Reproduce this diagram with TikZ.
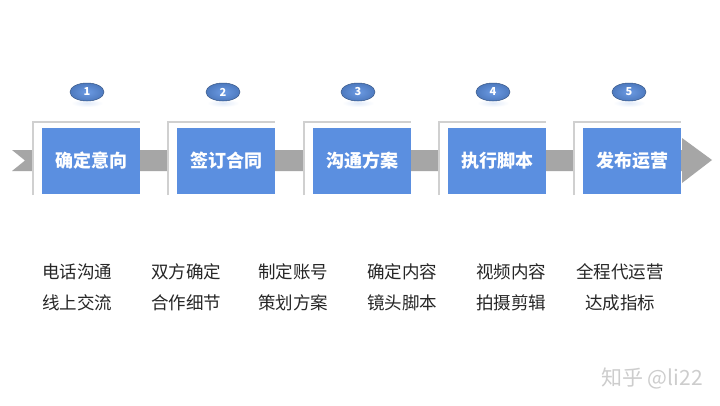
\documentclass[tikz,border=0pt]{standalone}
\usepackage{fontspec}
\setmainfont{Noto Sans CJK SC}
\newfontfamily\cjk{Noto Sans CJK SC}
\usetikzlibrary{shapes.geometric,shadings}
\definecolor{boxblue}{HTML}{5B8FE0}
\definecolor{bandgray}{HTML}{A6A6A6}
\definecolor{framegray}{HTML}{D0D0D0}
\definecolor{wm}{HTML}{CDCDCD}
\tikzset{
  stepbox/.style={fill=boxblue, minimum width=98pt, minimum height=66pt, inner sep=0pt, text=white, font=\cjk\bfseries\fontsize{18}{20}\selectfont},
  numell/.style={ellipse, minimum width=34pt, minimum height=18pt, inner sep=0pt, text=white, font=\cjk\bfseries\fontsize{11}{12}\selectfont,
     inner color=boxblue!90!white, outer color=boxblue!85!black, draw=boxblue!60!black, line width=0.5pt},
  desc/.style={font=\cjk\fontsize{17.5}{20}\selectfont, text=black!85, inner sep=0pt}
}
\begin{document}
\begin{tikzpicture}[x=1pt,y=-1pt]
\useasboundingbox[fill=white] (0,0) rectangle (720,405);
% band
\fill[bandgray] (12,150) -- (682,150) -- (682,138) -- (712,160) -- (682,183) -- (682,171) -- (12,171) -- (25,160.5) -- cycle;
\foreach \i/\cx/\ex/\t in {1/91/87/确定意向, 2/226/223/签订合同, 3/362/358/沟通方案, 4/497/493/执行脚本, 5/632/629/发布运营}{
  \fill[white] (\cx-58,122) rectangle (\cx+49,195);
  \draw[framegray, line width=1.2pt] (\cx-58,195) -- (\cx-58,122) -- (\cx+49,122);
  \node[stepbox] (b\i) at (\cx,161) {\t};
  \shade[inner color=boxblue!18, outer color=white] (\ex,103) ellipse (16pt and 4pt);
  \node[numell] (n\i) at (\ex,92) {\i};
}
\foreach \j/\x/\a/\b in {1/77/电话沟通/线上交流, 2/186/双方确定/合作细节, 3/293/制定账号/策划方案, 4/402/确定内容/镜头脚本, 5/511/视频内容/拍摄剪辑, 6/620/全程代运营/达成指标}{
  \node[desc] (d\j a) at (\x,272) {\a};
  \node[desc] (d\j b) at (\x,303) {\b};
}
\node[font=\cjk\fontsize{21}{24}\selectfont, text=wm] (wm) at (652,378) {知乎 @li22};
\end{tikzpicture}
\end{document}
